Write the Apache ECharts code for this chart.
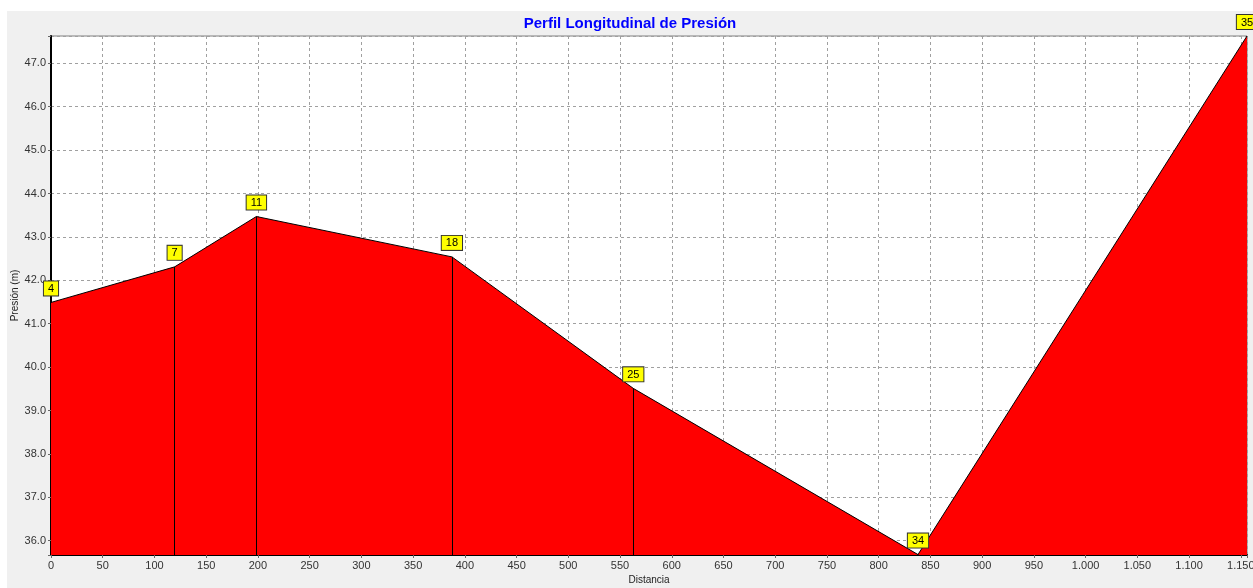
<!DOCTYPE html>
<html>
<head>
<meta charset="utf-8">
<script src="https://cdn.jsdelivr.net/npm/echarts@6/dist/echarts.min.js"></script>
<style>
  html, body { margin: 0; padding: 0; background: #ffffff; }
  #chart { position: absolute; left: 7px; top: 11px; width: 1246px; height: 577px; background: #f0f0f0; }
</style>
</head>
<body>
<div id="chart"></div>
<script>
// nudos del perfil
const nodeIds = ["4", "7", "11", "18", "25", "34", "35"]
const distancia = [0, 119.5, 198.5, 387.5, 562.8, 838, 1156]
const presion = [41.49, 42.31, 43.47, 42.54, 39.51, 35.68, 47.63]

const xMin = 0
const xMax = 1156
const yMin = 35.67
const yMax = 47.63

const chart = echarts.init(document.getElementById("chart"))

const points = distancia.map((d, i) => [d, presion[i]])

const fmtMiles = (v) => {
  if (v % 50 !== 0) return ""
  if (v >= 1000) {
    const s = String(v)
    return s.slice(0, s.length - 3) + "." + s.slice(-3)
  }
  return String(v)
}

const option = {
  backgroundColor: "transparent",
  animation: false,
  title: {
    text: "Perfil Longitudinal de Presión",
    left: "center",
    top: 0,
    textStyle: { color: "#0000ff", fontSize: 15, fontWeight: "bold", fontFamily: "Liberation Sans" },
  },
  grid: {
    left: 44,
    top: 25,
    right: 6,
    bottom: 33,
    outerBoundsMode: "none",
    containLabel: false,
    show: true,
    backgroundColor: "#ffffff",
    borderColor: "#808080",
    borderWidth: 1,
  },
  xAxis: {
    type: "value",
    min: xMin,
    max: xMax,
    interval: 50,
    name: "Distancia",
    nameLocation: "middle",
    nameGap: 20,
    nameMoveOverlap: false,
    nameTextStyle: { color: "#222", fontSize: 10, fontFamily: "Liberation Sans" },
    axisLine: { lineStyle: { color: "#000", width: 2 } },
    axisTick: { show: true, length: 3, lineStyle: { color: "#666" } },
    axisLabel: { color: "#333", fontSize: 11, fontFamily: "Liberation Sans", margin: 5, formatter: fmtMiles },
    splitLine: { show: true, lineStyle: { color: "#a0a0a0", type: [3, 3], width: 1 } },
  },
  yAxis: {
    type: "value",
    min: yMin,
    max: yMax,
    splitNumber: 12,
    minInterval: 1,
    maxInterval: 1,
    name: "Presión (m)",
    nameLocation: "middle",
    nameGap: 31,
    nameMoveOverlap: false,
    nameTextStyle: { color: "#222", fontSize: 10, fontFamily: "Liberation Sans" },
    axisLine: { show: true, lineStyle: { color: "#000", width: 2 } },
    axisTick: { show: true, length: 3, lineStyle: { color: "#666" } },
    axisLabel: {
      color: "#333",
      fontSize: 11,
      fontFamily: "Liberation Sans",
      margin: 5,
      formatter: (v) => (Math.abs(v - Math.round(v)) > 1e-6 ? "" : v.toFixed(1)),
    },
    splitLine: { show: true, lineStyle: { color: "#a0a0a0", type: [3, 3], width: 1 } },
  },
  series: [
    {
      type: "line",
      data: points,
      symbol: "circle",
      symbolSize: 0,
      showSymbol: true,
      lineStyle: { color: "#000", width: 1 },
      itemStyle: { color: "#000" },
      areaStyle: { color: "#ff0000", opacity: 1, origin: "start" },
      label: {
        show: true,
        position: "top",
        distance: 7,
        formatter: (p) => nodeIds[p.dataIndex],
        color: "#000",
        fontSize: 11,
        fontFamily: "Liberation Sans",
        backgroundColor: "#ffff00",
        borderColor: "#333",
        borderWidth: 1,
        padding: [2, 4, 1, 4],
      },
      markLine: {
        silent: true,
        symbol: "none",
        label: { show: false },
        lineStyle: { color: "#000", width: 1, type: "solid" },
        data: points.slice(1, -1).map((p) => [{ coord: [p[0], p[1]] }, { coord: [p[0], yMin] }]),
      },
    },
  ],
}

chart.setOption(option)
</script>
</body>
</html>
